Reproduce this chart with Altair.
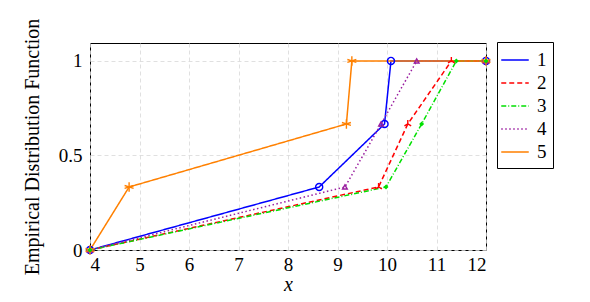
import altair as alt
import pandas as pd

series_names = ["1", "2", "3", "4", "5"]
colors = ["#0000ff", "#ff0000", "#00e000", "#9a1fa0", "#ff8000"]
dashes = [[1, 0], [5, 3], [5, 2, 1, 2], [1.5, 2.5], [1, 0]]
shapes = [
    "circle",
    "M0,0L0,-1M0,0L-0.87,0.5M0,0L0.87,0.5",
    "diamond",
    "triangle-up",
    "M0,-1L0,1M-0.95,-0.31L0.95,0.31M-0.95,0.31L0.95,-0.31",
]
sizes = [50, 60, 25, 22, 90]

x_vals = {
    "1": [4, 8.63, 9.95, 10.08, 12],
    "2": [4, 9.83, 10.42, 11.30, 12],
    "3": [4, 9.98, 10.70, 11.40, 12],
    "4": [4, 9.15, 9.88, 10.60, 12],
    "5": [4, 4.79, 9.18, 9.29, 12],
}
y_vals = [0, 1 / 3, 2 / 3, 1, 1]

rows = []
for i, s in enumerate(series_names):
    for xv, yv in zip(x_vals[s], y_vals):
        rows.append({"series": s, "x": xv, "y": yv, "hex": colors[i],
                     "shp": shapes[i], "sz": sizes[i]})
df = pd.DataFrame(rows)

font = "Liberation Serif"
xscale = alt.Scale(domain=[4, 12], nice=False, zero=False)
yscale = alt.Scale(domain=[0, 1.095], nice=False)

base = alt.Chart(df)

lines = base.mark_line(strokeWidth=1.5).encode(
    x=alt.X("x:Q", scale=xscale,
            axis=alt.Axis(title="x", values=list(range(4, 13)), titleFontStyle="italic",
                          grid=True, ticks=False, labelPadding=5, titlePadding=0)),
    y=alt.Y("y:Q", scale=yscale,
            axis=alt.Axis(title="Empirical Distribution Function", values=[0, 0.5, 1],
                          labelExpr="datum.value == 0 ? '0' : datum.value == 1 ? '1' : '0.5'",
                          grid=True, ticks=False, labelPadding=8, titlePadding=16)),
    color=alt.Color("series:N", scale=alt.Scale(domain=series_names, range=colors),
                    legend=alt.Legend(title=None, orient="none", legendX=407, legendY=-1,
                                      symbolType="M-1.25,0L1.25,0", symbolSize=484,
                                      symbolStrokeWidth=1.5, labelFontSize=19,
                                      labelFont=font, rowPadding=1, padding=6,
                                      strokeColor="black", fillColor="white",
                                      labelOffset=10)),
    strokeDash=alt.StrokeDash("series:N", scale=alt.Scale(domain=series_names, range=dashes)),
    detail="series:N",
)

pts_open = base.transform_filter(alt.FieldOneOfPredicate(field="series", oneOf=["1", "2", "4", "5"])).mark_point(
    filled=False, strokeWidth=1.4, opacity=1
).encode(
    x=alt.X("x:Q", scale=xscale),
    y=alt.Y("y:Q", scale=yscale),
    color=alt.Color("hex:N", scale=None),
    shape=alt.Shape("shp:N", scale=None),
    size=alt.Size("sz:Q", scale=None),
)

pts_fill = base.transform_filter(alt.FieldOneOfPredicate(field="series", oneOf=["3"])).mark_point(
    filled=True, opacity=1
).encode(
    x=alt.X("x:Q", scale=xscale),
    y=alt.Y("y:Q", scale=yscale),
    color=alt.Color("hex:N", scale=None),
    shape=alt.Shape("shp:N", scale=None),
    size=alt.Size("sz:Q", scale=None),
)

chart = alt.layer(lines, pts_open, pts_fill).properties(
    width=396, height=207,
    autosize=alt.AutoSizeParams(type="none"),
    padding={"left": 82, "top": 35, "right": 96, "bottom": 50},
).configure_view(
    stroke="black", strokeWidth=1
).configure_axis(
    labelFont=font, titleFont=font, labelFontSize=19, titleFontSize=20,
    labelColor="black", titleColor="black", titleFontWeight="normal",
    domain=False, gridColor="#d8d8d8", gridDash=[4, 3], gridWidth=0.8,
)

chart.save("out.html", embed_options={"renderer": "svg", "actions": False})
